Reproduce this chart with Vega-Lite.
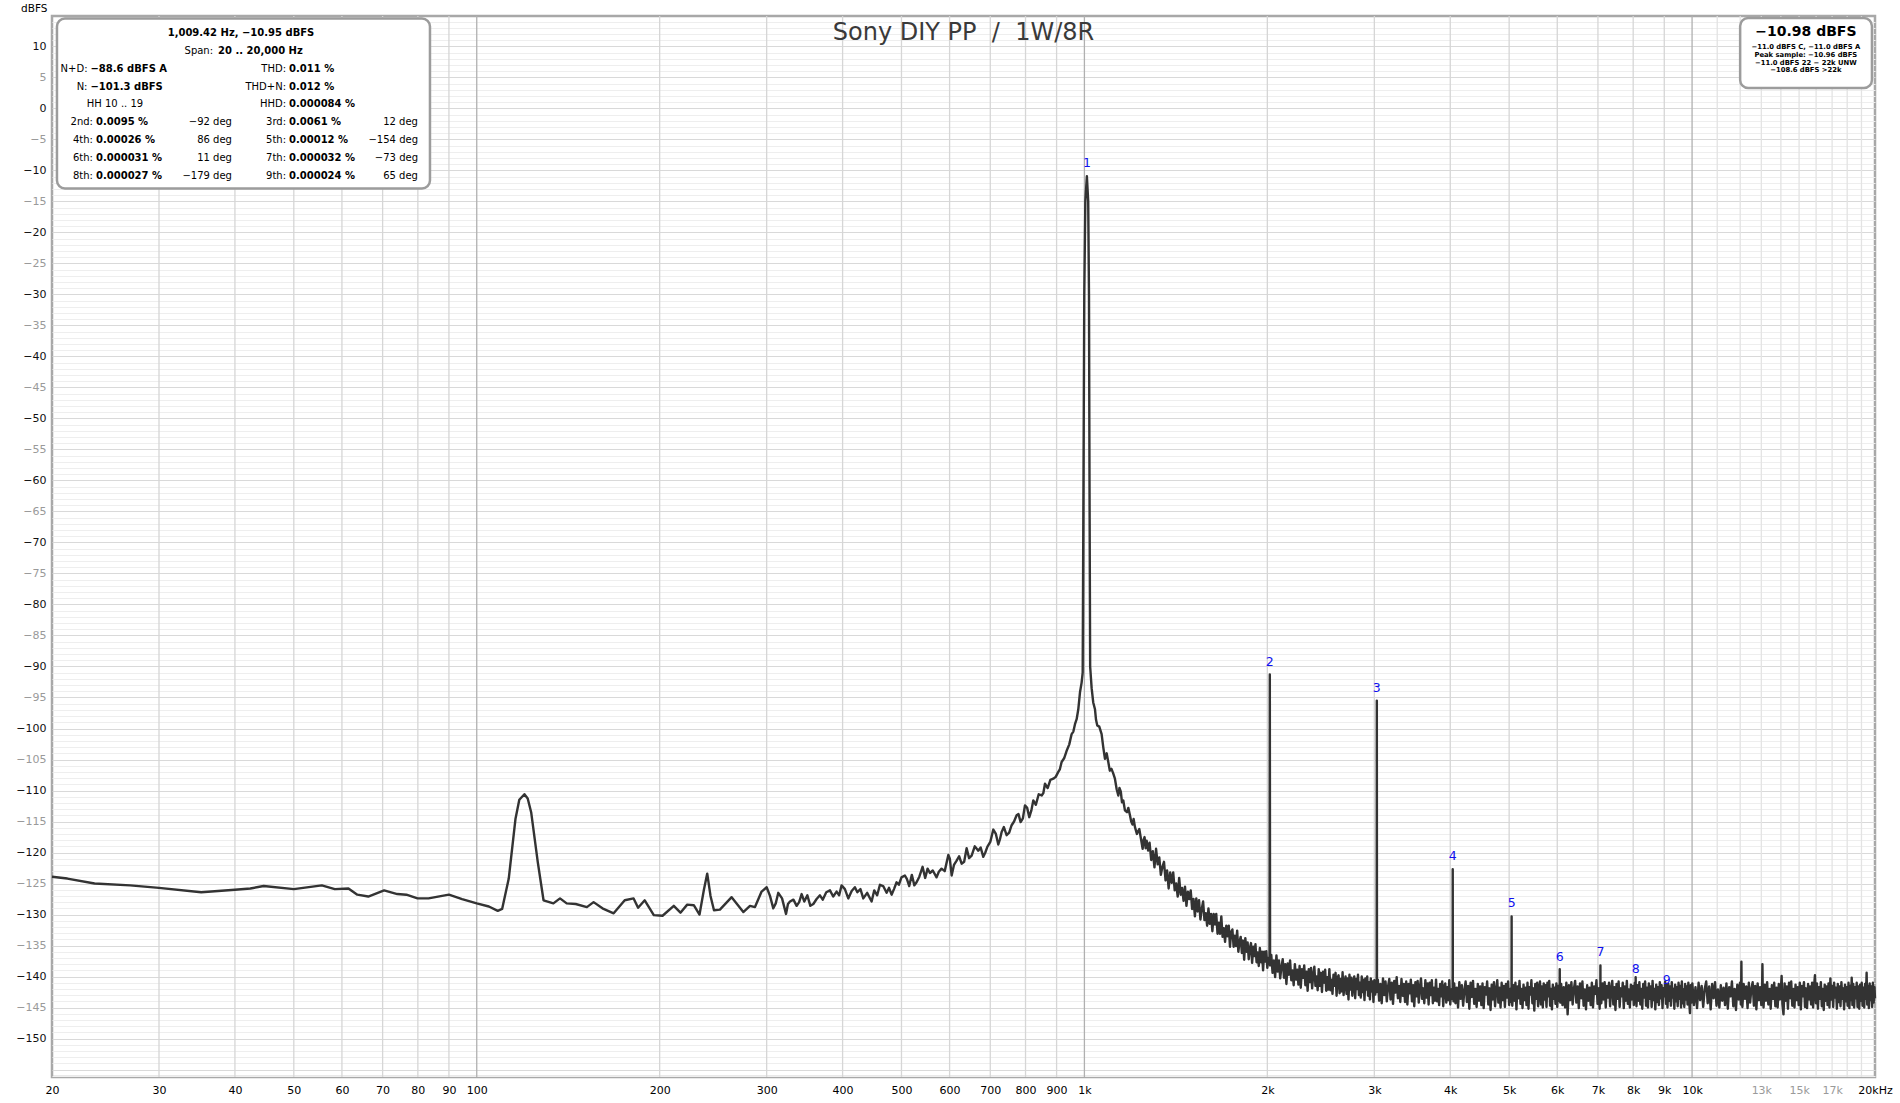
{
  "$schema": "https://vega.github.io/schema/vega-lite/v6.json",
  "width": 1823,
  "height": 1061,
  "autosize": {"type": "none"},
  "padding": {"left": 52, "top": 16, "right": 25, "bottom": 26},
  "background": "white",
  "config": {"view": {"stroke": "#a8a8a8", "strokeWidth": 2.5}, "font": "DejaVu Sans"},
  "datasets": {
    "gridX": [{"hz":30},{"hz":40},{"hz":50},{"hz":60},{"hz":70},{"hz":80},{"hz":90},{"hz":100},{"hz":200},{"hz":300},{"hz":400},{"hz":500},{"hz":600},{"hz":700},{"hz":800},{"hz":900},{"hz":1000},{"hz":2000},{"hz":3000},{"hz":4000},{"hz":5000},{"hz":6000},{"hz":7000},{"hz":8000},{"hz":9000},{"hz":10000},{"hz":11000},{"hz":12000},{"hz":13000},{"hz":14000},{"hz":15000},{"hz":16000},{"hz":17000},{"hz":18000},{"hz":19000}],
    "spectrum": [
      {"hz":20,"db":-123.9},{"hz":21.2,"db":-124.2},{"hz":23.5,"db":-125.0},{"hz":26.9,"db":-125.3},{"hz":30,"db":-125.7},{"hz":35.2,"db":-126.4},{"hz":40,"db":-126.0},{"hz":42.4,"db":-125.8},{"hz":44.6,"db":-125.4},{"hz":50,"db":-125.9},{"hz":55.6,"db":-125.3},{"hz":58.4,"db":-125.9},{"hz":61.5,"db":-125.8},{"hz":63.6,"db":-126.8},{"hz":66.3,"db":-127.1},{"hz":70.4,"db":-126.1},{"hz":74.0,"db":-126.7},{"hz":76.6,"db":-126.8},{"hz":79.9,"db":-127.4},{"hz":83.3,"db":-127.4},{"hz":90.0,"db":-126.8},{"hz":94.6,"db":-127.5},{"hz":100,"db":-128.2},{"hz":104.7,"db":-128.7},{"hz":108.3,"db":-129.4},{"hz":110.1,"db":-129.1},{"hz":112.9,"db":-124.2},{"hz":115.8,"db":-114.6},{"hz":117.5,"db":-111.5},{"hz":119.8,"db":-110.6},{"hz":121.3,"db":-111.3},{"hz":122.9,"db":-113.5},{"hz":126.0,"db":-121.5},{"hz":128.8,"db":-127.7},{"hz":133.7,"db":-128.2},{"hz":137.1,"db":-127.4},{"hz":140.6,"db":-128.2},{"hz":145.5,"db":-128.3},{"hz":151.8,"db":-128.8},{"hz":155.7,"db":-128.0},{"hz":161.0,"db":-129.0},{"hz":168.0,"db":-129.8},{"hz":175.2,"db":-127.7},{"hz":181.2,"db":-127.4},{"hz":184.3,"db":-128.9},{"hz":189.0,"db":-127.7},{"hz":195.6,"db":-130.1},{"hz":202.2,"db":-130.2},{"hz":211.0,"db":-128.6},{"hz":216.4,"db":-129.7},{"hz":222.0,"db":-128.4},{"hz":227.6,"db":-128.5},{"hz":232.6,"db":-130.0},{"hz":236.5,"db":-126.0},{"hz":239.5,"db":-123.4},{"hz":242.5,"db":-127.0},{"hz":245.7,"db":-129.3},{"hz":251.3,"db":-129.2},{"hz":262.7,"db":-127.2},{"hz":274.6,"db":-129.6},{"hz":281.6,"db":-128.6},{"hz":287.0,"db":-128.8},{"hz":294.3,"db":-126.3},
      {"hz":300.0,"db":-125.6},{"hz":303.8,"db":-127.0},{"hz":307.6,"db":-129.0},{"hz":310.5,"db":-128.2},{"hz":313.5,"db":-126.5},{"hz":318,"db":-127.4},{"hz":322.8,"db":-129.9},{"hz":325.2,"db":-128.3},{"hz":327.7,"db":-127.9},{"hz":332,"db":-127.6},{"hz":336.1,"db":-128.6},{"hz":339.3,"db":-128.0},{"hz":342.5,"db":-126.7},{"hz":346,"db":-127.9},{"hz":350,"db":-126.9},{"hz":354,"db":-128.6},{"hz":358.0,"db":-128.3},{"hz":362.5,"db":-127.5},{"hz":367.1,"db":-126.9},{"hz":371,"db":-127.6},{"hz":376,"db":-126.4},{"hz":381.3,"db":-126.1},{"hz":386,"db":-127.1},{"hz":391.0,"db":-126.3},{"hz":394.8,"db":-126.9},{"hz":398.5,"db":-125.3},{"hz":403.5,"db":-125.9},{"hz":408.7,"db":-127.4},{"hz":414,"db":-126.2},{"hz":419.1,"db":-125.6},{"hz":423,"db":-126.4},{"hz":428,"db":-125.9},{"hz":432.6,"db":-127.4},{"hz":439,"db":-126.5},{"hz":446.5,"db":-127.9},{"hz":451,"db":-126.1},{"hz":456,"db":-126.9},{"hz":460.8,"db":-125.2},{"hz":466.5,"db":-125.4},{"hz":472.6,"db":-126.5},{"hz":477,"db":-125.7},{"hz":481.6,"db":-126.8},{"hz":486,"db":-125.9},{"hz":490.8,"db":-124.8},{"hz":495,"db":-125.2},{"hz":500,"db":-124.0},{"hz":506.5,"db":-123.7},{"hz":510.5,"db":-124.3},{"hz":514.9,"db":-125.4},{"hz":520,"db":-123.6},{"hz":525,"db":-125.3},{"hz":529.4,"db":-124.8},{"hz":535,"db":-123.9},{"hz":541.6,"db":-122.3},{"hz":547,"db":-124.1},{"hz":552,"db":-122.6},{"hz":556.9,"db":-123.3},{"hz":563,"db":-122.9},{"hz":571.1,"db":-124.0},{"hz":576,"db":-123.1},{"hz":582.0,"db":-122.6},{"hz":589,"db":-123.0},{"hz":597.1,"db":-120.4},{"hz":600.5,"db":-121.0},{"hz":604.7,"db":-123.7},{"hz":610,"db":-122.0},{"hz":616.2,"db":-121.3},{"hz":622,"db":-120.6},{"hz":628.0,"db":-121.8},{"hz":634,"db":-121.5},{"hz":640.0,"db":-119.3},{"hz":646,"db":-120.9},{"hz":652.3,"db":-120.5},{"hz":660,"db":-119.0},{"hz":668.9,"db":-119.7},{"hz":675,"db":-119.2},{"hz":681.7,"db":-120.7},{"hz":687,"db":-120.0},{"hz":692.2,"db":-119.1},{"hz":700,"db":-118.3},{"hz":708.1,"db":-116.3},{"hz":715,"db":-117.0},{"hz":721.6,"db":-118.7},{"hz":726,"db":-117.9},{"hz":730.8,"db":-116.7},{"hz":737,"db":-115.9},{"hz":744.7,"db":-117.2},{"hz":752,"db":-116.8},{"hz":759.0,"db":-115.6},{"hz":766,"db":-115.0},{"hz":773.5,"db":-114.0},{"hz":779,"db":-113.8},{"hz":785.3,"db":-115.1},{"hz":792,"db":-114.5},{"hz":798.3,"db":-112.4},{"hz":805,"db":-112.8},{"hz":811.5,"db":-114.3},{"hz":818,"db":-113.2},{"hz":823.9,"db":-111.6},{"hz":832,"db":-112.3},{"hz":841,"db":-110.6},{"hz":850.4,"db":-110.8},{"hz":856,"db":-110.4},{"hz":861.2,"db":-108.9},{"hz":870,"db":-109.6},{"hz":879,"db":-108.3},{"hz":888.8,"db":-108.1},{"hz":897,"db":-107.8},{"hz":905.8,"db":-107.0},{"hz":911,"db":-106.6},{"hz":917.3,"db":-105.4},{"hz":926,"db":-104.8},{"hz":934.9,"db":-103.6},{"hz":944,"db":-102.6},{"hz":952.8,"db":-100.9},{"hz":959,"db":-100.5},{"hz":964.9,"db":-99.3},{"hz":971,"db":-98.5},{"hz":977.1,"db":-96.9},{"hz":983.3,"db":-94.2},{"hz":989.5,"db":-92.6},
      {"hz":993.5,"db":-91.0},{"hz":996.5,"db":-60.0},{"hz":999.5,"db":-30.0},{"hz":1003.5,"db":-15.0},{"hz":1009.42,"db":-10.95},{"hz":1014.5,"db":-15.0},{"hz":1017.5,"db":-30.0},{"hz":1019.5,"db":-60.0},{"hz":1022,"db":-90.0},
      {"hz":1027.8,"db":-93.5},{"hz":1034,"db":-95.8},{"hz":1040.9,"db":-96.9},{"hz":1045,"db":-98.6},{"hz":1050.0,"db":-99.5},{"hz":1058,"db":-99.7},{"hz":1067.4,"db":-100.9},{"hz":1074,"db":-103.0},{"hz":1081.0,"db":-104.9},{"hz":1088,"db":-104.0},{"hz":1094.7,"db":-105.4},{"hz":1101,"db":-106.8},{"hz":1108,"db":-106.5},{"hz":1115,"db":-107.2},{"hz":1122.6,"db":-108.1},{"hz":1130,"db":-109.8},{"hz":1137.0,"db":-110.8},{"hz":1142,"db":-109.6},{"hz":1148,"db":-110.2},{"hz":1153,"db":-111.9},{"hz":1158.8,"db":-111.6},{"hz":1166,"db":-113.2},{"hz":1175,"db":-113.5},{"hz":1181,"db":-112.8},{"hz":1188.4,"db":-114.0},{"hz":1194,"db":-115.0},{"hz":1200,"db":-115.5},{"hz":1205,"db":-114.6},{"hz":1211.2,"db":-115.9},{"hz":1220,"db":-117.0},{"hz":1231.2,"db":-116.2},{"hz":1239,"db":-117.8},{"hz":1246.9,"db":-119.4},{"hz":1251,"db":-118.0},{"hz":1256,"db":-117.5},{"hz":1261,"db":-119.3},{"hz":1266.0,"db":-118.1},{"hz":1273,"db":-119.7},
      {"hz":1280,"db":-118.4},{"hz":1288,"db":-121.2},{"hz":1296,"db":-119.8},{"hz":1304,"db":-122.4},{"hz":1312,"db":-119.4},{"hz":1320,"db":-121.9},{"hz":1328,"db":-120.8},{"hz":1336,"db":-123.6},{"hz":1344,"db":-122.3},{"hz":1352,"db":-121.5},
      {"hz":1360,"db":-124.5},{"hz":1368,"db":-122.9},{"hz":1376,"db":-125.8},{"hz":1384,"db":-123.2},{"hz":1392,"db":-124.9},{"hz":1400,"db":-123.2},{"hz":1408,"db":-126.1},{"hz":1416,"db":-125.0},{"hz":1424,"db":-127.1},{"hz":1432,"db":-124.1},
      {"hz":1440,"db":-126.8},{"hz":1448,"db":-125.7},{"hz":1456,"db":-127.8},{"hz":1464,"db":-125.5},{"hz":1472,"db":-128.6},{"hz":1480,"db":-126.3},{"hz":1488,"db":-127.5},{"hz":1496,"db":-126.1},{"hz":1504,"db":-129.1},{"hz":1512,"db":-127.5},
      {"hz":1520,"db":-130.3},{"hz":1528,"db":-127.4},{"hz":1536,"db":-129.5},{"hz":1544,"db":-127.7},{"hz":1552,"db":-130.8},{"hz":1560,"db":-129.1},{"hz":1568,"db":-127.9},{"hz":1576,"db":-130.9},{"hz":1584,"db":-129.8},{"hz":1592,"db":-131.8},
      {"hz":1600,"db":-129.0},{"hz":1608,"db":-131.5},{"hz":1616,"db":-129.9},{"hz":1624,"db":-132.7},{"hz":1632,"db":-129.9},{"hz":1640,"db":-131.6},{"hz":1648,"db":-129.9},{"hz":1656,"db":-133.1},{"hz":1664,"db":-131.3},{"hz":1672,"db":-133.1},
      {"hz":1680,"db":-130.3},{"hz":1688,"db":-133.6},{"hz":1696,"db":-132.2},{"hz":1704,"db":-134.4},{"hz":1712,"db":-131.8},{"hz":1720,"db":-133.5},{"hz":1728,"db":-131.8},{"hz":1736,"db":-135.2},{"hz":1744,"db":-132.8},{"hz":1752,"db":-132.4},
      {"hz":1760,"db":-135.2},{"hz":1768,"db":-133.4},{"hz":1776,"db":-135.1},{"hz":1784,"db":-132.6},{"hz":1792,"db":-136.0},{"hz":1800,"db":-134.4},{"hz":1808,"db":-133.6},{"hz":1816,"db":-136.2},{"hz":1824,"db":-134.2},{"hz":1832,"db":-137.3},
      {"hz":1840,"db":-133.8},{"hz":1848,"db":-136.0},{"hz":1856,"db":-134.5},{"hz":1864,"db":-137.2},{"hz":1872,"db":-135.4},{"hz":1880,"db":-134.6},{"hz":1888,"db":-137.8},{"hz":1896,"db":-135.2},{"hz":1904,"db":-136.7},{"hz":1912,"db":-134.8},
      {"hz":1920,"db":-137.7},{"hz":1928,"db":-136.1},{"hz":1936,"db":-138.3},{"hz":1944,"db":-135.4},{"hz":1952,"db":-137.7},{"hz":1960,"db":-136.0},{"hz":1968,"db":-139.0},{"hz":1976,"db":-136.0},{"hz":1984,"db":-137.6},{"hz":1992,"db":-135.9},
      {"hz":2000,"db":-138.6},{"hz":2008,"db":-137.0},{"hz":2016.5,"db":-137.6},{"hz":2018.84,"db":-91.3},{"hz":2021,"db":-138.2},
      {"hz":2030,"db":-136.5},{"hz":2040,"db":-139.4},{"hz":2050,"db":-137.4},{"hz":2060,"db":-140.1},{"hz":2070,"db":-136.6},{"hz":2080,"db":-139.2},{"hz":2090,"db":-137.4},{"hz":2100,"db":-140.3},{"hz":2110,"db":-138.4},{"hz":2120,"db":-137.2},
      {"hz":2130,"db":-140.2},{"hz":2140,"db":-138.0},{"hz":2150,"db":-141.2},{"hz":2160,"db":-137.9},{"hz":2170,"db":-139.7},{"hz":2180,"db":-137.4},{"hz":2190,"db":-140.6},{"hz":2200,"db":-139.0},{"hz":2210,"db":-141.4},{"hz":2220,"db":-138.0},
      {"hz":2230,"db":-140.5},{"hz":2240,"db":-138.9},{"hz":2250,"db":-141.3},{"hz":2260,"db":-138.3},{"hz":2270,"db":-141.8},{"hz":2280,"db":-138.8},{"hz":2290,"db":-140.2},{"hz":2300,"db":-138.2},{"hz":2310,"db":-141.4},{"hz":2320,"db":-139.2},
      {"hz":2330,"db":-142.3},{"hz":2340,"db":-138.8},{"hz":2350,"db":-140.9},{"hz":2360,"db":-138.6},{"hz":2370,"db":-141.9},{"hz":2380,"db":-139.7},{"hz":2390,"db":-138.4},{"hz":2400,"db":-141.5},{"hz":2410,"db":-140.0},{"hz":2420,"db":-142.2},
      {"hz":2430,"db":-138.8},{"hz":2440,"db":-141.5},{"hz":2450,"db":-139.4},{"hz":2460,"db":-142.5},{"hz":2470,"db":-139.2},{"hz":2480,"db":-141.0},{"hz":2490,"db":-138.9},{"hz":2500,"db":-142.3},{"hz":2510,"db":-140.1},{"hz":2520,"db":-142.1},
      {"hz":2530,"db":-138.8},{"hz":2540,"db":-142.2},{"hz":2550,"db":-140.5},{"hz":2560,"db":-142.8},{"hz":2570,"db":-139.7},{"hz":2580,"db":-141.5},{"hz":2590,"db":-139.4},{"hz":2600,"db":-143.1},{"hz":2610,"db":-140.2},{"hz":2620,"db":-139.8},
      {"hz":2630,"db":-142.7},{"hz":2640,"db":-140.4},{"hz":2650,"db":-142.4},{"hz":2660,"db":-139.3},{"hz":2670,"db":-143.0},{"hz":2680,"db":-140.9},{"hz":2690,"db":-140.0},{"hz":2700,"db":-142.8},{"hz":2710,"db":-140.3},{"hz":2720,"db":-143.7},
      {"hz":2730,"db":-139.7},{"hz":2740,"db":-142.1},{"hz":2750,"db":-140.2},{"hz":2760,"db":-143.1},{"hz":2770,"db":-140.9},{"hz":2780,"db":-140.0},{"hz":2790,"db":-143.5},{"hz":2800,"db":-140.4},{"hz":2810,"db":-142.0},{"hz":2820,"db":-139.7},
      {"hz":2830,"db":-143.0},{"hz":2840,"db":-141.0},{"hz":2850,"db":-143.4},{"hz":2860,"db":-140.0},{"hz":2870,"db":-142.5},{"hz":2880,"db":-140.5},{"hz":2890,"db":-143.8},{"hz":2900,"db":-140.3},{"hz":2910,"db":-142.1},{"hz":2920,"db":-140.0},
      {"hz":2930,"db":-143.1},{"hz":2940,"db":-140.9},{"hz":2950,"db":-143.7},{"hz":2960,"db":-140.3},{"hz":2970,"db":-142.4},{"hz":2980,"db":-140.8},{"hz":2990,"db":-144.1},{"hz":3000,"db":-140.6},{"hz":3010,"db":-142.9},{"hz":3020,"db":-141.2},
      {"hz":3026.5,"db":-142.5},{"hz":3028.3,"db":-95.5},{"hz":3030.2,"db":-142.3},
      {"hz":3040,"db":-140.5},{"hz":3055,"db":-143.9},{"hz":3070,"db":-141.2},{"hz":3085,"db":-144.3},{"hz":3100,"db":-140.3},{"hz":3115,"db":-143.0},{"hz":3130,"db":-140.8},{"hz":3145,"db":-144.0},{"hz":3160,"db":-141.6},{"hz":3175,"db":-140.4},
      {"hz":3190,"db":-143.7},{"hz":3205,"db":-141.0},{"hz":3220,"db":-144.4},{"hz":3235,"db":-140.7},{"hz":3250,"db":-142.6},{"hz":3265,"db":-140.1},{"hz":3280,"db":-143.5},{"hz":3295,"db":-141.5},{"hz":3310,"db":-144.1},{"hz":3325,"db":-140.4},
      {"hz":3340,"db":-143.1},{"hz":3355,"db":-141.2},{"hz":3370,"db":-144.1},{"hz":3385,"db":-140.8},{"hz":3400,"db":-144.5},{"hz":3415,"db":-141.2},{"hz":3430,"db":-142.7},{"hz":3445,"db":-140.5},{"hz":3460,"db":-144.0},{"hz":3475,"db":-141.4},
      {"hz":3490,"db":-144.8},{"hz":3505,"db":-140.9},{"hz":3520,"db":-143.2},{"hz":3535,"db":-140.7},{"hz":3550,"db":-144.2},{"hz":3565,"db":-141.7},{"hz":3580,"db":-140.3},{"hz":3595,"db":-143.6},{"hz":3610,"db":-141.9},{"hz":3625,"db":-144.3},
      {"hz":3640,"db":-140.6},{"hz":3655,"db":-143.4},{"hz":3670,"db":-141.1},{"hz":3685,"db":-144.5},{"hz":3700,"db":-141.0},{"hz":3715,"db":-143.0},{"hz":3730,"db":-140.6},{"hz":3745,"db":-144.3},{"hz":3760,"db":-141.8},{"hz":3775,"db":-143.9},
      {"hz":3790,"db":-140.5},{"hz":3805,"db":-144.0},{"hz":3820,"db":-142.0},{"hz":3835,"db":-144.6},{"hz":3850,"db":-141.2},{"hz":3865,"db":-143.2},{"hz":3880,"db":-140.8},{"hz":3895,"db":-144.8},{"hz":3910,"db":-141.6},{"hz":3925,"db":-141.1},
      {"hz":3940,"db":-144.2},{"hz":3955,"db":-141.7},{"hz":3970,"db":-143.8},{"hz":3985,"db":-140.6},{"hz":4000,"db":-144.5},{"hz":4015,"db":-142.1},{"hz":4025,"db":-143.6},
      {"hz":4036,"db":-142.4},{"hz":4037.7,"db":-122.7},{"hz":4039.4,"db":-142.6},
      {"hz":4050,"db":-144.0},{"hz":4060,"db":-141.1},{"hz":4080,"db":-144.3},{"hz":4100,"db":-141.8},{"hz":4120,"db":-145.0},{"hz":4140,"db":-140.9},{"hz":4160,"db":-143.6},{"hz":4180,"db":-141.4},{"hz":4200,"db":-144.7},{"hz":4220,"db":-142.2},
      {"hz":4240,"db":-140.8},{"hz":4260,"db":-144.1},{"hz":4280,"db":-141.5},{"hz":4300,"db":-145.2},{"hz":4320,"db":-141.0},{"hz":4340,"db":-143.3},{"hz":4360,"db":-140.7},{"hz":4380,"db":-144.4},{"hz":4400,"db":-142.0},{"hz":4420,"db":-144.9},
      {"hz":4440,"db":-141.2},{"hz":4460,"db":-143.9},{"hz":4480,"db":-141.6},{"hz":4500,"db":-144.6},{"hz":4520,"db":-141.1},{"hz":4540,"db":-145.1},{"hz":4560,"db":-141.7},{"hz":4580,"db":-142.9},{"hz":4600,"db":-140.8},{"hz":4620,"db":-144.5},
      {"hz":4640,"db":-141.9},{"hz":4660,"db":-145.4},{"hz":4680,"db":-141.3},{"hz":4700,"db":-143.7},{"hz":4720,"db":-140.9},{"hz":4740,"db":-144.8},{"hz":4760,"db":-142.1},{"hz":4780,"db":-140.6},{"hz":4800,"db":-144.2},{"hz":4820,"db":-141.8},
      {"hz":4840,"db":-145.0},{"hz":4860,"db":-141.0},{"hz":4880,"db":-143.8},{"hz":4900,"db":-141.5},{"hz":4920,"db":-144.9},{"hz":4940,"db":-141.2},{"hz":4960,"db":-143.4},{"hz":4980,"db":-140.8},{"hz":5000,"db":-144.6},{"hz":5020,"db":-142.0},
      {"hz":5035,"db":-144.1},{"hz":5045.5,"db":-142.3},{"hz":5047.1,"db":-130.3},{"hz":5048.7,"db":-142.6},
      {"hz":5060,"db":-144.7},{"hz":5080,"db":-141.4},{"hz":5100,"db":-143.9},{"hz":5120,"db":-141.0},{"hz":5140,"db":-145.3},{"hz":5160,"db":-141.6},{"hz":5180,"db":-143.5},{"hz":5200,"db":-140.7},{"hz":5220,"db":-144.4},{"hz":5240,"db":-142.0},
      {"hz":5260,"db":-145.1},{"hz":5280,"db":-141.3},{"hz":5300,"db":-143.8},{"hz":5320,"db":-141.8},{"hz":5340,"db":-144.6},{"hz":5360,"db":-141.0},{"hz":5380,"db":-145.2},{"hz":5400,"db":-141.7},{"hz":5420,"db":-142.9},{"hz":5440,"db":-140.6},
      {"hz":5460,"db":-144.3},{"hz":5480,"db":-141.9},{"hz":5500,"db":-145.5},{"hz":5520,"db":-141.2},{"hz":5540,"db":-143.6},{"hz":5560,"db":-141.0},{"hz":5580,"db":-144.8},{"hz":5600,"db":-142.1},{"hz":5620,"db":-140.8},{"hz":5640,"db":-144.5},
      {"hz":5660,"db":-141.6},{"hz":5680,"db":-145.0},{"hz":5700,"db":-141.1},{"hz":5720,"db":-143.7},{"hz":5740,"db":-141.4},{"hz":5760,"db":-144.9},{"hz":5780,"db":-141.0},{"hz":5800,"db":-143.2},{"hz":5820,"db":-140.7},{"hz":5840,"db":-144.7},
      {"hz":5860,"db":-142.0},{"hz":5880,"db":-145.3},{"hz":5900,"db":-141.3},{"hz":5920,"db":-143.6},{"hz":5940,"db":-141.8},{"hz":5960,"db":-144.4},{"hz":5980,"db":-141.1},{"hz":6000,"db":-144.9},{"hz":6020,"db":-141.5},{"hz":6040,"db":-143.9},
      {"hz":6054.5,"db":-142.2},{"hz":6056.5,"db":-138.8},{"hz":6058.5,"db":-142.6},
      {"hz":6070,"db":-144.2},{"hz":6090,"db":-141.2},{"hz":6120,"db":-144.6},{"hz":6150,"db":-141.7},{"hz":6180,"db":-145.0},{"hz":6210,"db":-141.0},{"hz":6240,"db":-146.1},{"hz":6270,"db":-141.4},{"hz":6300,"db":-143.8},{"hz":6330,"db":-140.9},
      {"hz":6360,"db":-144.5},{"hz":6390,"db":-142.0},{"hz":6420,"db":-140.7},{"hz":6450,"db":-144.2},{"hz":6480,"db":-141.6},{"hz":6510,"db":-145.1},{"hz":6540,"db":-141.1},{"hz":6570,"db":-143.5},{"hz":6600,"db":-140.8},{"hz":6630,"db":-144.7},
      {"hz":6660,"db":-142.1},{"hz":6690,"db":-145.3},{"hz":6720,"db":-141.4},{"hz":6750,"db":-143.9},{"hz":6780,"db":-141.8},{"hz":6810,"db":-144.6},{"hz":6840,"db":-141.0},{"hz":6870,"db":-145.0},{"hz":6900,"db":-141.6},{"hz":6930,"db":-142.8},
      {"hz":6960,"db":-140.6},{"hz":6990,"db":-144.4},{"hz":7020,"db":-141.9},{"hz":7045,"db":-145.2},{"hz":7064,"db":-142.0},{"hz":7066,"db":-138.2},{"hz":7068,"db":-142.5},{"hz":7090,"db":-144.3},{"hz":7120,"db":-141.1},{"hz":7150,"db":-143.7},
      {"hz":7180,"db":-140.9},{"hz":7210,"db":-145.0},{"hz":7240,"db":-141.5},{"hz":7270,"db":-143.4},{"hz":7300,"db":-141.0},{"hz":7330,"db":-144.8},{"hz":7360,"db":-142.0},{"hz":7390,"db":-140.7},{"hz":7420,"db":-144.5},{"hz":7450,"db":-141.7},
      {"hz":7480,"db":-145.4},{"hz":7510,"db":-141.2},{"hz":7540,"db":-143.6},{"hz":7570,"db":-140.8},{"hz":7600,"db":-144.9},{"hz":7630,"db":-141.9},{"hz":7660,"db":-143.2},{"hz":7690,"db":-141.0},{"hz":7720,"db":-145.1},{"hz":7750,"db":-141.6},
      {"hz":7780,"db":-143.9},{"hz":7810,"db":-140.7},{"hz":7840,"db":-144.4},{"hz":7870,"db":-142.1},{"hz":7900,"db":-145.0},{"hz":7930,"db":-141.3},{"hz":7960,"db":-143.7},{"hz":7990,"db":-141.5},{"hz":8020,"db":-144.6},{"hz":8050,"db":-141.0},
      {"hz":8073,"db":-142.4},{"hz":8075.4,"db":-140.1},{"hz":8078,"db":-142.6},
      {"hz":8100,"db":-144.8},{"hz":8130,"db":-141.4},{"hz":8160,"db":-143.9},{"hz":8190,"db":-140.9},{"hz":8220,"db":-144.5},{"hz":8250,"db":-142.0},{"hz":8280,"db":-145.2},{"hz":8310,"db":-141.2},{"hz":8340,"db":-143.4},{"hz":8370,"db":-140.8},
      {"hz":8400,"db":-144.7},{"hz":8430,"db":-141.8},{"hz":8460,"db":-145.0},{"hz":8490,"db":-141.1},{"hz":8520,"db":-143.6},{"hz":8550,"db":-141.6},{"hz":8580,"db":-144.9},{"hz":8610,"db":-140.7},{"hz":8640,"db":-143.8},{"hz":8670,"db":-142.0},
      {"hz":8700,"db":-145.3},{"hz":8730,"db":-141.3},{"hz":8760,"db":-144.1},{"hz":8790,"db":-141.7},{"hz":8820,"db":-144.6},{"hz":8850,"db":-140.9},{"hz":8880,"db":-143.5},{"hz":8910,"db":-141.4},{"hz":8940,"db":-145.1},{"hz":8970,"db":-141.9},
      {"hz":9000,"db":-143.2},{"hz":9030,"db":-140.8},{"hz":9060,"db":-144.4},{"hz":9084,"db":-141.4},{"hz":9110,"db":-145.0},{"hz":9140,"db":-141.2},{"hz":9170,"db":-143.9},{"hz":9200,"db":-141.6},{"hz":9230,"db":-144.7},{"hz":9260,"db":-140.9},
      {"hz":9290,"db":-143.4},{"hz":9320,"db":-142.0},{"hz":9350,"db":-145.2},{"hz":9380,"db":-141.3},{"hz":9410,"db":-144.0},{"hz":9440,"db":-141.7},{"hz":9470,"db":-144.8},{"hz":9500,"db":-141.0},{"hz":9530,"db":-143.6},{"hz":9560,"db":-141.5},
      {"hz":9590,"db":-145.0},{"hz":9620,"db":-140.8},{"hz":9650,"db":-144.3},{"hz":9680,"db":-142.1},{"hz":9710,"db":-144.9},{"hz":9740,"db":-141.2},{"hz":9770,"db":-143.7},{"hz":9800,"db":-141.6},{"hz":9830,"db":-144.5},{"hz":9860,"db":-141.0},
      {"hz":9890,"db":-143.9},{"hz":9920,"db":-145.9},{"hz":9950,"db":-141.4},{"hz":9980,"db":-144.2},
      {"hz":10010,"db":-141.1},{"hz":10070,"db":-144.6},{"hz":10130,"db":-141.7},{"hz":10190,"db":-145.1},{"hz":10250,"db":-141.0},{"hz":10310,"db":-143.8},{"hz":10370,"db":-141.5},{"hz":10430,"db":-144.9},{"hz":10490,"db":-142.0},{"hz":10550,"db":-140.8},
      {"hz":10610,"db":-144.3},{"hz":10670,"db":-141.6},{"hz":10730,"db":-145.3},{"hz":10790,"db":-141.2},{"hz":10850,"db":-143.5},{"hz":10910,"db":-140.9},{"hz":10970,"db":-144.7},{"hz":11030,"db":-142.1},{"hz":11090,"db":-145.0},{"hz":11150,"db":-141.4},
      {"hz":11210,"db":-143.9},{"hz":11270,"db":-141.8},{"hz":11330,"db":-144.6},{"hz":11390,"db":-141.1},{"hz":11450,"db":-145.2},{"hz":11510,"db":-141.7},{"hz":11570,"db":-143.2},{"hz":11630,"db":-140.8},{"hz":11690,"db":-144.8},{"hz":11750,"db":-142.0},
      {"hz":11810,"db":-145.4},{"hz":11870,"db":-141.3},{"hz":11930,"db":-143.7},{"hz":11990,"db":-141.0},{"hz":12030,"db":-144.5},{"hz":12045,"db":-141.5},{"hz":12055,"db":-137.6},{"hz":12065,"db":-141.8},{"hz":12100,"db":-144.9},{"hz":12160,"db":-141.2},
      {"hz":12220,"db":-143.6},{"hz":12280,"db":-141.6},{"hz":12340,"db":-145.1},{"hz":12400,"db":-141.0},{"hz":12460,"db":-144.2},{"hz":12520,"db":-142.0},{"hz":12580,"db":-140.9},{"hz":12640,"db":-144.7},{"hz":12700,"db":-141.5},{"hz":12760,"db":-145.3},
      {"hz":12820,"db":-141.1},{"hz":12880,"db":-143.8},{"hz":12940,"db":-141.7},{"hz":13000,"db":-144.6},{"hz":13040,"db":-141.4},{"hz":13055,"db":-138.0},{"hz":13070,"db":-141.8},{"hz":13110,"db":-145.0},{"hz":13170,"db":-141.3},{"hz":13230,"db":-143.9},
      {"hz":13290,"db":-140.9},{"hz":13350,"db":-144.5},{"hz":13410,"db":-142.0},{"hz":13470,"db":-145.2},{"hz":13530,"db":-141.4},{"hz":13590,"db":-143.6},{"hz":13650,"db":-141.0},{"hz":13710,"db":-144.8},{"hz":13770,"db":-141.8},{"hz":13830,"db":-145.0},
      {"hz":13890,"db":-141.2},{"hz":13950,"db":-143.7},{"hz":14010,"db":-141.5},{"hz":14040,"db":-139.9},{"hz":14080,"db":-144.4},{"hz":14140,"db":-146.1},{"hz":14200,"db":-141.1},{"hz":14260,"db":-143.9},{"hz":14320,"db":-141.6},{"hz":14380,"db":-145.2},
      {"hz":14440,"db":-141.0},{"hz":14500,"db":-143.5},{"hz":14560,"db":-140.8},{"hz":14620,"db":-144.7},{"hz":14680,"db":-142.0},{"hz":14740,"db":-145.0},{"hz":14800,"db":-141.3},{"hz":14860,"db":-143.8},{"hz":14920,"db":-141.7},{"hz":14980,"db":-144.6},
      {"hz":15040,"db":-141.0},{"hz":15100,"db":-145.3},{"hz":15160,"db":-141.5},{"hz":15220,"db":-143.2},{"hz":15280,"db":-140.9},{"hz":15340,"db":-144.9},{"hz":15400,"db":-141.9},{"hz":15460,"db":-145.1},{"hz":15520,"db":-141.2},{"hz":15580,"db":-143.7},
      {"hz":15640,"db":-141.6},{"hz":15700,"db":-144.5},{"hz":15760,"db":-141.0},{"hz":15820,"db":-145.0},{"hz":15880,"db":-141.4},{"hz":15930,"db":-139.8},{"hz":15990,"db":-144.3},{"hz":16050,"db":-141.1},{"hz":16110,"db":-145.2},{"hz":16170,"db":-141.7},
      {"hz":16230,"db":-143.6},{"hz":16290,"db":-140.9},{"hz":16350,"db":-144.8},{"hz":16410,"db":-142.0},{"hz":16470,"db":-145.4},{"hz":16530,"db":-141.3},{"hz":16590,"db":-143.9},{"hz":16650,"db":-141.6},{"hz":16710,"db":-144.6},{"hz":16770,"db":-141.1},
      {"hz":16830,"db":-145.0},{"hz":16890,"db":-140.3},{"hz":16950,"db":-143.7},{"hz":17010,"db":-141.5},{"hz":17070,"db":-144.9},{"hz":17130,"db":-141.0},{"hz":17190,"db":-143.4},{"hz":17250,"db":-141.8},{"hz":17310,"db":-145.2},{"hz":17370,"db":-141.2},
      {"hz":17430,"db":-144.1},{"hz":17490,"db":-141.6},{"hz":17550,"db":-144.8},{"hz":17610,"db":-140.9},{"hz":17670,"db":-143.6},{"hz":17730,"db":-141.9},{"hz":17790,"db":-145.3},{"hz":17850,"db":-141.3},{"hz":17910,"db":-144.0},{"hz":17970,"db":-141.7},
      {"hz":18030,"db":-144.7},{"hz":18090,"db":-141.0},{"hz":18150,"db":-145.1},{"hz":18210,"db":-141.5},{"hz":18270,"db":-143.8},{"hz":18310,"db":-140.2},{"hz":18360,"db":-144.6},{"hz":18420,"db":-141.2},{"hz":18480,"db":-145.0},{"hz":18540,"db":-141.7},
      {"hz":18600,"db":-143.5},{"hz":18660,"db":-141.0},{"hz":18720,"db":-144.9},{"hz":18780,"db":-141.6},{"hz":18840,"db":-145.2},{"hz":18900,"db":-141.3},{"hz":18960,"db":-143.9},{"hz":19020,"db":-141.0},{"hz":19080,"db":-144.7},{"hz":19140,"db":-141.8},
      {"hz":19200,"db":-145.0},{"hz":19260,"db":-141.2},{"hz":19320,"db":-143.6},{"hz":19375,"db":-139.4},{"hz":19420,"db":-144.5},{"hz":19480,"db":-141.5},{"hz":19540,"db":-145.1},{"hz":19600,"db":-141.1},{"hz":19660,"db":-143.8},{"hz":19720,"db":-141.6},
      {"hz":19780,"db":-144.9},{"hz":19840,"db":-141.0},{"hz":19900,"db":-144.2},{"hz":19960,"db":-141.7},{"hz":20000,"db":-143.5}
    ],
    "harmonics": [
      {"n":"1","hz":1009.42,"db":-10.95},{"n":"2","hz":2018.84,"db":-91.3},{"n":"3","hz":3028.3,"db":-95.5},{"n":"4","hz":4037.7,"db":-122.7},{"n":"5","hz":5047.1,"db":-130.3},{"n":"6","hz":6056.5,"db":-138.9},{"n":"7","hz":7066,"db":-138.1},{"n":"8","hz":8075.4,"db":-140.8},{"n":"9","hz":9084.8,"db":-142.6}
    ],
    "boxes": [
      {"hz":20.38,"hz2":83.76,"db":14.5,"db2":-12.92},
      {"hz":11998,"hz2":19770,"db":14.58,"db2":3.29}
    ],
    "heading": [{"t":"1,009.42 Hz, \u221210.95 dBFS","hz":40.93,"db":12.16}],
    "centerNote": [{"t":"HH 10 .. 19","hz":25.39,"db":0.63}],
    "labels": [
      {"t":"Span:","hz":36.82,"db":9.25},
      {"t":"N+D:","hz":22.88,"db":6.35},
      {"t":"N:","hz":22.88,"db":3.45},
      {"t":"THD:","hz":48.55,"db":6.35},
      {"t":"THD+N:","hz":48.55,"db":3.45},
      {"t":"HHD:","hz":48.55,"db":0.63},
      {"t":"2nd:","hz":23.36,"db":-2.2},
      {"t":"4th:","hz":23.36,"db":-5.1},
      {"t":"6th:","hz":23.36,"db":-8.0},
      {"t":"8th:","hz":23.36,"db":-10.91},
      {"t":"3rd:","hz":48.55,"db":-2.2},
      {"t":"5th:","hz":48.55,"db":-5.1},
      {"t":"7th:","hz":48.55,"db":-8.0},
      {"t":"9th:","hz":48.55,"db":-10.91},
      {"t":"\u221292 deg","hz":39.55,"db":-2.2},
      {"t":"86 deg","hz":39.55,"db":-5.1},
      {"t":"11 deg","hz":39.55,"db":-8.0},
      {"t":"\u2212179 deg","hz":39.55,"db":-10.91},
      {"t":"12 deg","hz":80.04,"db":-2.2},
      {"t":"\u2212154 deg","hz":80.04,"db":-5.1},
      {"t":"\u221273 deg","hz":80.04,"db":-8.0},
      {"t":"65 deg","hz":80.04,"db":-10.91}
    ],
    "values": [
      {"t":"20 .. 20,000 Hz","hz":37.52,"db":9.25},
      {"t":"\u221288.6 dBFS A","hz":23.14,"db":6.35},
      {"t":"\u2212101.3 dBFS","hz":23.14,"db":3.45},
      {"t":"0.011 %","hz":49.1,"db":6.35},
      {"t":"0.012 %","hz":49.1,"db":3.45},
      {"t":"0.000084 %","hz":49.1,"db":0.63},
      {"t":"0.0095 %","hz":23.63,"db":-2.2},
      {"t":"0.00026 %","hz":23.63,"db":-5.1},
      {"t":"0.000031 %","hz":23.63,"db":-8.0},
      {"t":"0.000027 %","hz":23.63,"db":-10.91},
      {"t":"0.0061 %","hz":49.1,"db":-2.2},
      {"t":"0.00012 %","hz":49.1,"db":-5.1},
      {"t":"0.000032 %","hz":49.1,"db":-8.0},
      {"t":"0.000024 %","hz":49.1,"db":-10.91}
    ],
    "readout": [{"t":"\u221210.98 dBFS","hz":15390,"db":12.32}],
    "readoutLines": [
      {"t":"\u221211.0 dBFS C, \u221211.0 dBFS A","hz":15390,"db":9.85},
      {"t":"Peak sample: \u221210.96 dBFS","hz":15390,"db":8.61},
      {"t":"\u221211.0 dBFS 22 \u2212 22k UNW","hz":15390,"db":7.37},
      {"t":"\u2212108.6 dBFS >22k","hz":15390,"db":6.19}
    ],
    "title": [{"t":"Sony DIY PP\u00a0 /\u00a0 1W/8R","hz":632.46,"db":11.03}]
  },
  "layer": [
    {
      "data": {"name": "gridX"},
      "mark": {"type": "rule", "strokeWidth": 1.3},
      "encoding": {
        "x": {"field": "hz", "type": "quantitative"},
        "color": {"condition": [{"test": "datum.hz == 100 || datum.hz == 1000 || datum.hz == 10000", "value": "#b0b0b0"}, {"test": "datum.hz > 10000", "value": "#e3e3e3"}], "value": "#d6d6d6"}
      }
    },
    {
      "data": {"name": "spectrum"},
      "mark": {"type": "line", "color": "#333333", "strokeWidth": 2.4, "strokeJoin": "round"},
      "encoding": {
        "x": {
          "field": "hz", "type": "quantitative",
          "scale": {"type": "log", "domain": [20, 20000], "nice": false},
          "axis": {
            "title": null,
            "values": [20,30,40,50,60,70,80,90,100,200,300,400,500,600,700,800,900,1000,2000,3000,4000,5000,6000,7000,8000,9000,10000,11000,12000,13000,14000,15000,16000,17000,18000,19000,20000],
            "labelExpr": "datum.value == 20000 ? '20kHz' : (datum.value == 11000 || datum.value == 12000 || datum.value == 14000 || datum.value == 16000 || datum.value == 18000 || datum.value == 19000) ? '' : datum.value >= 1000 ? (datum.value / 1000) + 'k' : '' + datum.value",
            "grid": false,
            "ticks": false,
            "domain": false,
            "labelPadding": 7,
            "labelFont": "DejaVu Sans",
            "labelFontSize": 11,
            "labelColor": {"condition": {"test": "datum.value == 13000 || datum.value == 15000 || datum.value == 17000", "value": "#9a9a9a"}, "value": "#000000"},
            "labelFlush": false,
            "labelOverlap": false,
            "labelBound": false
          }
        },
        "y": {
          "field": "db", "type": "quantitative",
          "scale": {"domain": [-156.2, 14.9], "nice": false, "zero": false},
          "axis": {
            "title": "dBFS",
            "titleAngle": 0,
            "titleX": -5,
            "titleY": -8,
            "titleAlign": "right",
            "titleBaseline": "middle",
            "titleFontWeight": "normal",
            "titleFontSize": 10.5,
            "titleFont": "DejaVu Sans",
            "titleColor": "#000000",
            "tickCount": 171,
            "labelExpr": "(datum.value % 5 == 0 && datum.value >= -150) ? replace('' + datum.value, '-', '\u2212') : ''",
            "grid": true,
            "gridColor": {"condition": {"test": "datum.value % 5 == 0", "value": "#d9d9d9"}, "value": "#eeeeee"},
            "gridWidth": 1.2,
            "ticks": false,
            "domain": false,
            "labelPadding": 6,
            "labelFont": "DejaVu Sans",
            "labelFontSize": 11,
            "labelColor": {"condition": {"test": "datum.value % 10 == 0", "value": "#111111"}, "value": "#9a9a9a"},
            "labelOverlap": false,
            "labelFlush": false,
            "labelBound": false
          }
        }
      }
    },
    {
      "data": {"name": "boxes"},
      "mark": {"type": "rect", "fill": "white", "stroke": "#9c9c9c", "strokeWidth": 2.5, "cornerRadius": 8},
      "encoding": {
        "x": {"field": "hz", "type": "quantitative"},
        "x2": {"field": "hz2"},
        "y": {"field": "db", "type": "quantitative"},
        "y2": {"field": "db2"}
      }
    },
    {
      "data": {"name": "title"},
      "mark": {"type": "text", "font": "DejaVu Sans", "fontSize": 24, "color": "#3a3a3a", "align": "center", "baseline": "alphabetic"},
      "encoding": {
        "x": {"field": "hz", "type": "quantitative"},
        "y": {"field": "db", "type": "quantitative"},
        "text": {"field": "t"}
      }
    },
    {
      "data": {"name": "harmonics"},
      "mark": {"type": "text", "font": "DejaVu Sans", "fontSize": 12.5, "color": "#1010ee", "align": "center", "baseline": "middle", "dy": -13},
      "encoding": {
        "x": {"field": "hz", "type": "quantitative"},
        "y": {"field": "db", "type": "quantitative"},
        "text": {"field": "n"}
      }
    },
    {
      "data": {"name": "heading"},
      "mark": {"type": "text", "font": "DejaVu Sans", "fontSize": 10, "fontWeight": "bold", "color": "#000000", "align": "center", "baseline": "middle"},
      "encoding": {
        "x": {"field": "hz", "type": "quantitative"},
        "y": {"field": "db", "type": "quantitative"},
        "text": {"field": "t"}
      }
    },
    {
      "data": {"name": "centerNote"},
      "mark": {"type": "text", "font": "DejaVu Sans", "fontSize": 10, "color": "#000000", "align": "center", "baseline": "middle"},
      "encoding": {
        "x": {"field": "hz", "type": "quantitative"},
        "y": {"field": "db", "type": "quantitative"},
        "text": {"field": "t"}
      }
    },
    {
      "data": {"name": "labels"},
      "mark": {"type": "text", "font": "DejaVu Sans", "fontSize": 10, "color": "#000000", "align": "right", "baseline": "middle"},
      "encoding": {
        "x": {"field": "hz", "type": "quantitative"},
        "y": {"field": "db", "type": "quantitative"},
        "text": {"field": "t"}
      }
    },
    {
      "data": {"name": "values"},
      "mark": {"type": "text", "font": "DejaVu Sans", "fontSize": 10, "fontWeight": "bold", "color": "#000000", "align": "left", "baseline": "middle"},
      "encoding": {
        "x": {"field": "hz", "type": "quantitative"},
        "y": {"field": "db", "type": "quantitative"},
        "text": {"field": "t"}
      }
    },
    {
      "data": {"name": "readout"},
      "mark": {"type": "text", "font": "DejaVu Sans", "fontSize": 14, "fontWeight": "bold", "color": "#000000", "align": "center", "baseline": "middle"},
      "encoding": {
        "x": {"field": "hz", "type": "quantitative"},
        "y": {"field": "db", "type": "quantitative"},
        "text": {"field": "t"}
      }
    },
    {
      "data": {"name": "readoutLines"},
      "mark": {"type": "text", "font": "DejaVu Sans", "fontSize": 6.8, "fontWeight": "bold", "color": "#000000", "align": "center", "baseline": "middle"},
      "encoding": {
        "x": {"field": "hz", "type": "quantitative"},
        "y": {"field": "db", "type": "quantitative"},
        "text": {"field": "t"}
      }
    }
  ]
}
